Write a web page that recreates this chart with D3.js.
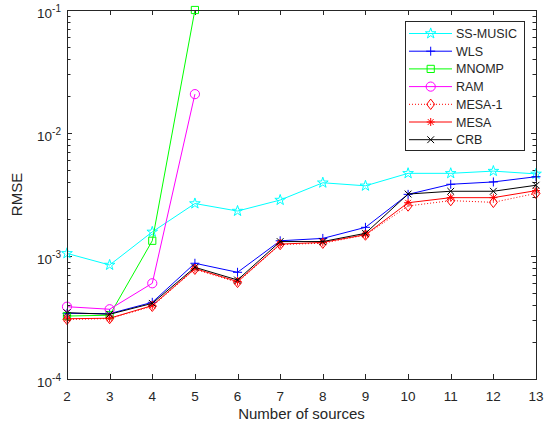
<!DOCTYPE html>
<html>
<head>
<meta charset="utf-8">
<script src="https://cdn.jsdelivr.net/npm/d3@7/dist/d3.min.js"></script>
<style>
  html, body { margin: 0; padding: 0; background: #fff; }
  svg { display: block; }
  text { font-family: "Liberation Sans", Arial, Helvetica, sans-serif; fill: #262626; }
</style>
</head>
<body>
<svg id="chart" width="554" height="428"></svg>
<script>
// Number of sources on the x axis
const sources = [2, 3, 4, 5, 6, 7, 8, 9, 10, 11, 12, 13];

// RMSE per estimator
const ssMusic = [1.05e-3, 8.45e-4, 1.57e-3, 2.67e-3, 2.32e-3, 2.85e-3, 3.94e-3, 3.72e-3, 4.7e-3, 4.7e-3, 4.9e-3, 4.65e-3];
const wls     = [3.42e-4, 3.40e-4, 4.20e-4, 8.73e-4, 7.37e-4, 1.33e-3, 1.39e-3, 1.71e-3, 3.17e-3, 3.83e-3, 4.0e-3, 4.41e-3];
const mnomp   = [3.25e-4, 3.30e-4, 1.33e-3, 1.0e-1];
const ram     = [3.87e-4, 3.69e-4, 6.0e-4, 2.07e-2];
const mesa1   = [3.05e-4, 3.10e-4, 3.90e-4, 7.8e-4, 6.1e-4, 1.24e-3, 1.27e-3, 1.48e-3, 2.55e-3, 2.82e-3, 2.73e-3, 3.23e-3];
const mesa    = [3.09e-4, 3.12e-4, 3.95e-4, 7.9e-4, 6.2e-4, 1.25e-3, 1.29e-3, 1.49e-3, 2.71e-3, 2.98e-3, 2.98e-3, 3.40e-3];
const crb     = [3.46e-4, 3.36e-4, 4.12e-4, 8.09e-4, 6.38e-4, 1.31e-3, 1.31e-3, 1.53e-3, 3.19e-3, 3.36e-3, 3.36e-3, 3.76e-3];

// Axis ticks
const xTicks = [2, 3, 4, 5, 6, 7, 8, 9, 10, 11, 12, 13];
const yTickExponents = [-4, -3, -2, -1];

const series = [
  { name: "SS-MUSIC", values: ssMusic, color: "#00ffff", marker: "star", dash: null },
  { name: "WLS",      values: wls,     color: "#0000ff", marker: "plus", dash: null },
  { name: "MNOMP",    values: mnomp,   color: "#00ff00", marker: "square", dash: null },
  { name: "RAM",      values: ram,     color: "#ff00ff", marker: "circle", dash: null },
  { name: "MESA-1",   values: mesa1,   color: "#ff0000", marker: "diamond", dash: "1,2" },
  { name: "MESA",     values: mesa,    color: "#ff0000", marker: "asterisk", dash: null },
  { name: "CRB",      values: crb,     color: "#000000", marker: "x", dash: null }
];

const svg = d3.select("#chart");
const L = 67, R = 536, T = 10, B = 379;
const axisColor = "#262626";

const x = d3.scaleLinear().domain([2, 13]).range([L, R]);
const y = d3.scaleLog().domain([1e-4, 1e-1]).range([B, T]);

// Marker path generators (centered at 0,0)
function starPath(ro) {
  const ri = ro * 0.382;
  let p = "";
  for (let i = 0; i < 10; i++) {
    const r = i % 2 === 0 ? ro : ri;
    const a = -Math.PI / 2 + i * Math.PI / 5;
    p += (i === 0 ? "M" : "L") + (r * Math.cos(a)).toFixed(2) + "," + (r * Math.sin(a)).toFixed(2);
  }
  return p + "Z";
}
const markerPaths = {
  star: starPath(5.6),
  plus: "M-4.5,0H4.5M0,-4.5V4.5",
  square: "M-3.6,-3.6H3.6V3.6H-3.6Z",
  circle: "M4.6,0A4.6,4.6 0 1,1 -4.6,0A4.6,4.6 0 1,1 4.6,0Z",
  diamond: "M0,-5.2L4,0L0,5.2L-4,0Z",
  asterisk: "M-4,0H4M0,-4V4M-2.9,-2.9L2.9,2.9M-2.9,2.9L2.9,-2.9",
  x: "M-3.4,-3.4L3.4,3.4M-3.4,3.4L3.4,-3.4"
};

// Plot background
svg.append("rect").attr("x", L).attr("y", T).attr("width", R - L).attr("height", B - T).attr("fill", "#fff");

// Ticks (inside, on all four sides)
const tickG = svg.append("g").attr("stroke", axisColor).attr("stroke-width", 1).attr("fill", "none");
xTicks.forEach(v => {
  const px = Math.round(x(v)) + 0.5;
  tickG.append("line").attr("x1", px).attr("x2", px).attr("y1", B).attr("y2", B - 5);
  tickG.append("line").attr("x1", px).attr("x2", px).attr("y1", T).attr("y2", T + 5);
});
const minorVals = [];
for (let e = -4; e < -1; e++) for (let m = 2; m <= 9; m++) minorVals.push(m * Math.pow(10, e));
minorVals.forEach(v => {
  const py = Math.round(y(v)) + 0.5;
  tickG.append("line").attr("x1", L).attr("x2", L + 3.5).attr("y1", py).attr("y2", py);
  tickG.append("line").attr("x1", R).attr("x2", R - 3.5).attr("y1", py).attr("y2", py);
});
yTickExponents.forEach(e => {
  const py = Math.round(y(Math.pow(10, e))) + 0.5;
  tickG.append("line").attr("x1", L).attr("x2", L + 5).attr("y1", py).attr("y2", py);
  tickG.append("line").attr("x1", R).attr("x2", R - 5).attr("y1", py).attr("y2", py);
});

// Series lines and markers
const line = d3.line().x((d, i) => x(sources[i])).y(d => y(d));
series.forEach(s => {
  svg.append("path")
    .datum(s.values)
    .attr("d", line)
    .attr("fill", "none")
    .attr("stroke", s.color)
    .attr("stroke-width", 1)
    .attr("stroke-dasharray", s.dash);
  svg.append("g").selectAll("path")
    .data(s.values)
    .join("path")
    .attr("transform", (d, i) => `translate(${x(sources[i])},${y(d)})`)
    .attr("d", markerPaths[s.marker])
    .attr("fill", "none")
    .attr("stroke", s.color)
    .attr("stroke-width", 1);
});

// Axes box
svg.append("rect")
  .attr("x", L + 0.5).attr("y", T + 0.5)
  .attr("width", R - L - 1 + 1).attr("height", B - T)
  .attr("fill", "none").attr("stroke", axisColor).attr("stroke-width", 1);

// X tick labels
svg.append("g").selectAll("text")
  .data(xTicks)
  .join("text")
  .attr("x", d => x(d))
  .attr("y", 401)
  .attr("text-anchor", "middle")
  .attr("font-size", "13.5px")
  .text(d => d);

// Y tick labels as powers of ten
yTickExponents.forEach(e => {
  const t = svg.append("text")
    .attr("x", 61)
    .attr("y", y(Math.pow(10, e)) + 8)
    .attr("text-anchor", "end")
    .attr("font-size", "13.5px");
  t.append("tspan").text("10");
  t.append("tspan").attr("dy", -6).attr("font-size", "10px").text(String(e).replace("-", "-"));
});

// Axis titles
svg.append("text")
  .attr("x", (L + R) / 2)
  .attr("y", 419)
  .attr("text-anchor", "middle")
  .attr("font-size", "15px")
  .text("Number of sources");
svg.append("text")
  .attr("transform", `translate(22,${(T + B) / 2}) rotate(-90)`)
  .attr("text-anchor", "middle")
  .attr("font-size", "15px")
  .text("RMSE");

// Legend
const lg = svg.append("g");
const lgX = 405, lgY = 21, lgW = 119, lgH = 129;
lg.append("rect")
  .attr("x", lgX + 0.5).attr("y", lgY + 0.5)
  .attr("width", lgW).attr("height", lgH)
  .attr("fill", "#fff").attr("stroke", axisColor).attr("stroke-width", 1);
series.forEach((s, i) => {
  const cy = 33.5 + i * 17.7;
  lg.append("line")
    .attr("x1", 409).attr("x2", 452).attr("y1", cy).attr("y2", cy)
    .attr("stroke", s.color).attr("stroke-width", 1)
    .attr("stroke-dasharray", s.dash);
  lg.append("path")
    .attr("transform", `translate(430.7,${cy})`)
    .attr("d", markerPaths[s.marker])
    .attr("fill", "none").attr("stroke", s.color).attr("stroke-width", 1);
  lg.append("text")
    .attr("x", 456).attr("y", cy + 4.5)
    .attr("font-size", "12.5px")
    .text(s.name);
});
</script>
</body>
</html>
